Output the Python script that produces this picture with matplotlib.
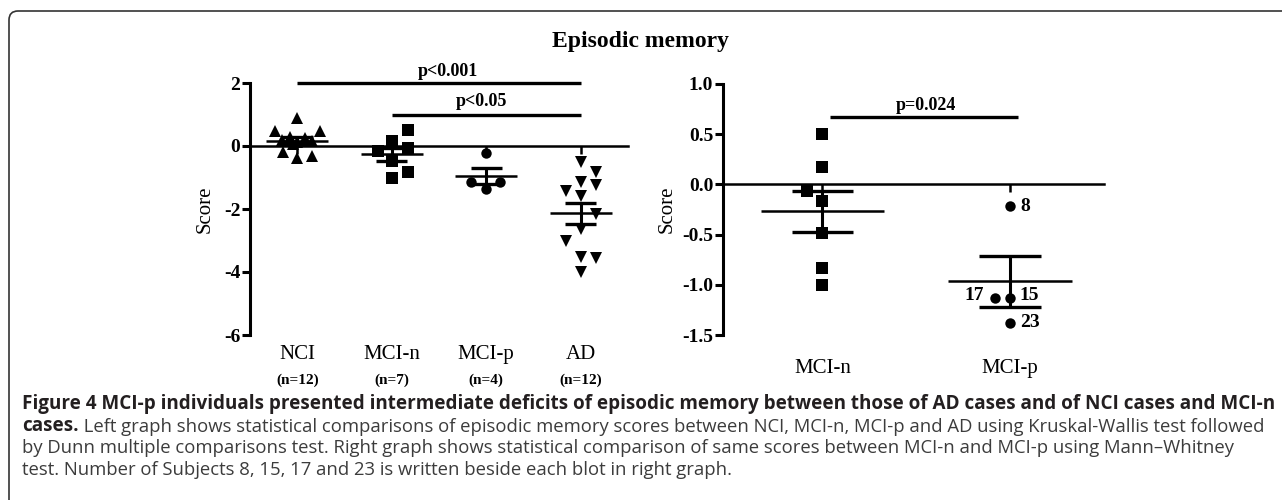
import numpy as np
import matplotlib.pyplot as plt
from matplotlib.patches import FancyBboxPatch
from matplotlib.transforms import blended_transform_factory

# left graph: four groups
left_groups = ["NCI", "MCI-n", "MCI-p", "AD"]
left_n = ["(n=12)", "(n=7)", "(n=4)", "(n=12)"]

nci = [0.9, 0.47, 0.47, 0.3, 0.25, 0.2, 0.15, 0.12, 0.05, -0.2, -0.33, -0.38]
mcin = [0.5, 0.17, -0.07, -0.17, -0.48, -0.83, -1.0]
mcip = [-0.22, -1.13, -1.13, -1.38]
ad = [-0.52, -0.84, -1.13, -1.23, -1.44, -1.6, -2.15, -2.63, -3.0, -3.52, -3.57, -4.0]

# horizontal scatter of the points (category units)
nci_dx = [0.0, -0.24, 0.24, -0.08, 0.08, -0.16, 0.16, 0.0, -0.04, -0.15, 0.16, 0.0]
mcin_dx = [0.17, 0.0, 0.17, -0.15, 0.0, 0.17, 0.0]
mcip_dx = [0.0, -0.16, 0.15, 0.0]
ad_dx = [0.0, 0.16, 0.0, 0.16, -0.16, 0.0, 0.16, 0.0, -0.16, 0.0, 0.16, 0.0]

# right graph: MCI-n vs MCI-p, same scores
right_groups = ["MCI-n", "MCI-p"]
mcin_r_dx = [0.0, 0.0, -0.08, 0.0, 0.0, 0.0, 0.0]
mcip_r_dx = [0.0, -0.08, 0.0, 0.0]
mcip_ids = ["8", "17", "15", "23"]

left_yticks = [2, 0, -2, -4, -6]
right_yticks = [1.0, 0.5, 0.0, -0.5, -1.0, -1.5]

SERIF = "Liberation Serif"
W, H = 1282, 500

fig = plt.figure(figsize=(W / 100, H / 100), dpi=100)


def px(x, y):
    return x / W, 1 - y / H


def axes_box(x0, x1, y_top, y_bot):
    return [x0 / W, 1 - y_bot / H, (x1 - x0) / W, (y_bot - y_top) / H]


def style_axes(ax, yticks, fmt):
    ax.set_yticks(yticks)
    ax.set_yticklabels([fmt.format(t) for t in yticks],
                       fontweight="bold", fontsize=14, family=SERIF)
    ax.set_ylim(min(yticks), max(yticks))
    for s in ["top", "right"]:
        ax.spines[s].set_visible(False)
    ax.spines["left"].set_linewidth(2.2)
    ax.spines["bottom"].set_position(("data", 0))
    ax.spines["bottom"].set_linewidth(1.8)
    ax.tick_params(axis="y", width=2.2, length=6, pad=1)
    ax.tick_params(axis="x", width=1.8, length=6, labelbottom=False)
    ax.patch.set_visible(False)


def mean_sem(ax, x, vals, half=0.33, cap=0.165):
    v = np.array(vals)
    m = v.mean()
    s = v.std(ddof=1) / np.sqrt(len(v))
    ax.hlines(m, x - half, x + half, color="k", lw=1.8, zorder=4)
    ax.vlines(x, m - s, m + s, color="k", lw=2.2, zorder=4)
    ax.hlines([m - s, m + s], x - cap, x + cap, color="k", lw=2.4, zorder=4)


# ---- left graph
ax1 = fig.add_axes(axes_box(250, 628, 83, 335))
style_axes(ax1, left_yticks, "{:.0f}")
ax1.set_xlim(-0.5, 3.5)
ax1.set_xticks(range(4))

sets = [(nci, nci_dx, "^", 9), (mcin, mcin_dx, "s", 8),
        (mcip, mcip_dx, "o", 7.5), (ad, ad_dx, "v", 9)]
for i, (vals, dx, mk, ms) in enumerate(sets):
    ax1.plot(i + np.array(dx), vals, mk, color="k", ms=ms, mew=0, zorder=3,
             clip_on=False)
    mean_sem(ax1, i, vals)

ax1.hlines(2, 0, 3, color="k", lw=2.4, clip_on=False)
ax1.hlines(1, 1, 3, color="k", lw=2.4, clip_on=False)
ax1.text(1.59, 2.36, "p<0.001", ha="center", va="center", fontsize=13,
         fontweight="bold", family=SERIF)
ax1.text(1.95, 1.41, "p<0.05", ha="center", va="center", fontsize=13,
         fontweight="bold", family=SERIF)

tr1 = blended_transform_factory(ax1.transData, ax1.transAxes)
for i, (g, n) in enumerate(zip(left_groups, left_n)):
    ax1.text(i, -0.079, g, transform=tr1, ha="center", va="center",
             fontsize=15, family=SERIF)
    ax1.text(i, -0.178, n, transform=tr1, ha="center", va="center",
             fontsize=11, fontweight="bold", family=SERIF)
ax1.set_ylabel("Score", fontsize=15, family=SERIF)
ax1.yaxis.set_label_coords(-0.093, 0.5)

# ---- right graph
ax2 = fig.add_axes(axes_box(723, 1104, 84, 335))
style_axes(ax2, right_yticks, "{:.1f}")
ax2.set_xlim(-0.53, 1.5)
ax2.set_xticks([0, 1])

ax2.plot(np.array(mcin_r_dx), mcin, "s", color="k", ms=8, mew=0, zorder=3)
ax2.plot(1 + np.array(mcip_r_dx), mcip, "o", color="k", ms=7.5, mew=0, zorder=3)
mean_sem(ax2, 0, mcin)
mean_sem(ax2, 1, mcip)

offsets = {"8": (7, 0), "17": (-8, 2), "15": (7, 2), "23": (7, 0)}
for dx, v, lab in zip(mcip_r_dx, mcip, mcip_ids):
    ox, oy = offsets[lab]
    ax2.annotate(lab, (1 + dx, v), xytext=(ox, oy), textcoords="offset points",
                 ha="left" if ox > 0 else "right", va="center", fontsize=14,
                 fontweight="bold", family=SERIF)

ax2.hlines(0.67, 0.04, 1.04, color="k", lw=2.4)
ax2.text(0.55, 0.79, "p=0.024", ha="center", va="center", fontsize=13,
         fontweight="bold", family=SERIF)

tr2 = blended_transform_factory(ax2.transData, ax2.transAxes)
for i, g in enumerate(right_groups):
    ax2.text(i, -0.135, g, transform=tr2, ha="center", va="center",
             fontsize=15, family=SERIF)
ax2.set_ylabel("Score", fontsize=15, family=SERIF)
ax2.yaxis.set_label_coords(-0.121, 0.5)

fig.text(*px(641, 47), "Episodic memory", ha="center", va="baseline",
         fontsize=17, fontweight="bold", family=SERIF)

# ---- caption
CAP = "Open Sans"
dark, grey = "#231f20", "#3c3c3c"
fig.text(*px(22, 409), "Figure 4 MCI-p individuals presented intermediate deficits of "
         "episodic memory between those of AD cases and of NCI cases and MCI-n",
         fontsize=13.6, fontweight="bold", family=CAP, color=dark)
t2 = fig.text(*px(22, 431), "cases.", fontsize=13.6, fontweight="bold",
              family=CAP, color=dark)
ax2.annotate(" Left graph shows statistical comparisons of episodic memory scores "
             "between NCI, MCI-n, MCI-p and AD using Kruskal-Wallis test followed",
             xy=(1, 0), xycoords=t2, va="bottom", ha="left", fontsize=13.3,
             family=CAP, color=grey, annotation_clip=False)
fig.text(*px(22, 453), "by Dunn multiple comparisons test. Right graph shows "
         "statistical comparison of same scores between MCI-n and MCI-p using "
         "Mann\u2013Whitney", fontsize=13.3, family=CAP, color=grey)
fig.text(*px(22, 475), "test. Number of Subjects 8, 15, 17 and 23 is written "
         "beside each blot in right graph.", fontsize=13.3, family=CAP, color=grey)

# rounded frame, open past the right and bottom edges
frame = FancyBboxPatch((9 / 100, -0.5), 14.0, (H - 11) / 100 + 0.5,
                       boxstyle="round,pad=0,rounding_size=0.09",
                       transform=fig.dpi_scale_trans, fill=False,
                       ec="#333333", lw=1.2)
fig.add_artist(frame)

fig.savefig("out.png", dpi=100)
